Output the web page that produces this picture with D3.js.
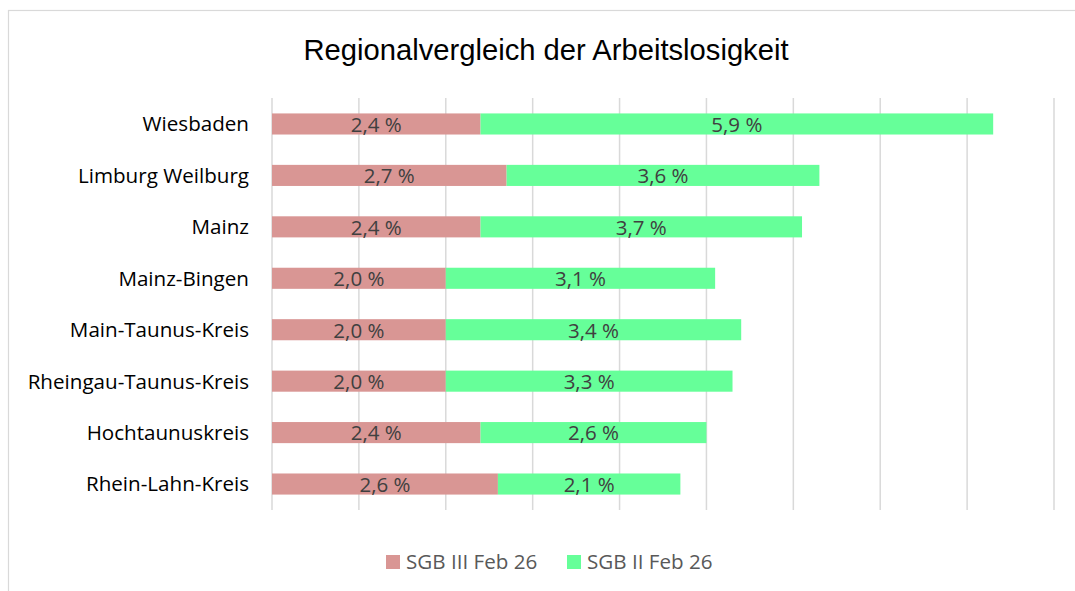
<!DOCTYPE html>
<html>
<head>
<meta charset="utf-8">
<script src="https://cdn.jsdelivr.net/npm/d3@7"></script>
<style>
  body { margin: 0; background: #fff; }
  .lbl { font-family: "Open Sans", sans-serif; }
</style>
</head>
<body>
<svg width="1075" height="591"></svg>
<script>
// Data
var regions = ["Wiesbaden", "Limburg Weilburg", "Mainz", "Mainz-Bingen", "Main-Taunus-Kreis",
               "Rheingau-Taunus-Kreis", "Hochtaunuskreis", "Rhein-Lahn-Kreis"];
var sgb3 = [2.4, 2.7, 2.4, 2.0, 2.0, 2.0, 2.4, 2.6];
var sgb2 = [5.9, 3.6, 3.7, 3.1, 3.4, 3.3, 2.6, 2.1];
var seriesNames = ["SGB III Feb 26", "SGB II Feb 26"];
var colors = ["#D99694", "#66FF99"];

var svg = d3.select("svg"),
  margin = {top: 98, left: 272, right: 21, bottom: 81},
  width = +svg.attr("width") - margin.left - margin.right,
  height = +svg.attr("height") - margin.top - margin.bottom;

// chart frame
svg.append("rect")
  .attr("x", 8.5).attr("y", 10.5)
  .attr("width", 1100).attr("height", 700)
  .attr("fill", "none").attr("stroke", "#d9d9d9").attr("stroke-width", 1.2);

svg.append("text")
  .attr("x", 546).attr("y", 60)
  .attr("text-anchor", "middle")
  .style("font-family", "'Liberation Sans', Arial, sans-serif")
  .style("font-size", "29.2px")
  .text("Regionalvergleich der Arbeitslosigkeit");

var x = d3.scaleLinear().domain([0, 9]).range([0, width]);
var y = d3.scaleBand().domain(regions).range([0, height]).paddingInner(0.59).paddingOuter(0.3);

var g = svg.append("g").attr("transform", "translate(" + margin.left + "," + margin.top + ")");

// gridlines
g.append("g")
  .selectAll("line")
  .data(x.ticks(9))
  .enter().append("line")
    .attr("x1", function(d) { return x(d); })
    .attr("x2", function(d) { return x(d); })
    .attr("y1", 0).attr("y2", height)
    .attr("stroke", "#d9d9d9").attr("stroke-width", 1.5);

var rows = regions.map(function(r, i) { return {region: r, sgb3: sgb3[i], sgb2: sgb2[i]}; });
var stack = d3.stack().keys(["sgb3", "sgb2"])(rows);

var layer = g.selectAll(".layer")
  .data(stack)
  .enter().append("g")
    .attr("fill", function(d, i) { return colors[i]; });

layer.selectAll("rect")
  .data(function(d) { return d; })
  .enter().append("rect")
    .attr("x", function(d) { return x(d[0]); })
    .attr("width", function(d) { return x(d[1]) - x(d[0]); })
    .attr("y", function(d) { return y(d.data.region); })
    .attr("height", y.bandwidth());

layer.selectAll("text")
  .data(function(d) { return d; })
  .enter().append("text")
    .attr("class", "lbl")
    .attr("x", function(d) { return (x(d[0]) + x(d[1])) / 2; })
    .attr("y", function(d) { return y(d.data.region) + y.bandwidth() / 2; })
    .attr("dy", "0.38em")
    .attr("text-anchor", "middle")
    .attr("fill", "#404040")
    .style("font-size", "20.5px")
    .text(function(d) { return (d[1] - d[0]).toFixed(1).replace(".", ",") + " %"; });

// category labels
g.append("g")
  .selectAll("text")
  .data(regions)
  .enter().append("text")
    .attr("class", "lbl")
    .attr("x", -23)
    .attr("y", function(d) { return y(d) + y.bandwidth() / 2; })
    .attr("dy", "0.36em")
    .attr("text-anchor", "end")
    .attr("fill", "#000")
    .style("font-size", "20.6px")
    .text(function(d) { return d; });

// legend
var legendX = [386, 567];
var legend = svg.append("g").selectAll("g")
  .data(seriesNames)
  .enter().append("g")
    .attr("transform", function(d, i) { return "translate(" + legendX[i] + ",555)"; });
legend.append("rect").attr("width", 14).attr("height", 14)
  .attr("fill", function(d, i) { return colors[i]; });
legend.append("text")
  .attr("class", "lbl")
  .attr("x", 20).attr("y", 7).attr("dy", "0.36em")
  .attr("fill", "#595959")
  .style("font-size", "20.6px")
  .text(function(d) { return d; });
</script>
</body>
</html>
